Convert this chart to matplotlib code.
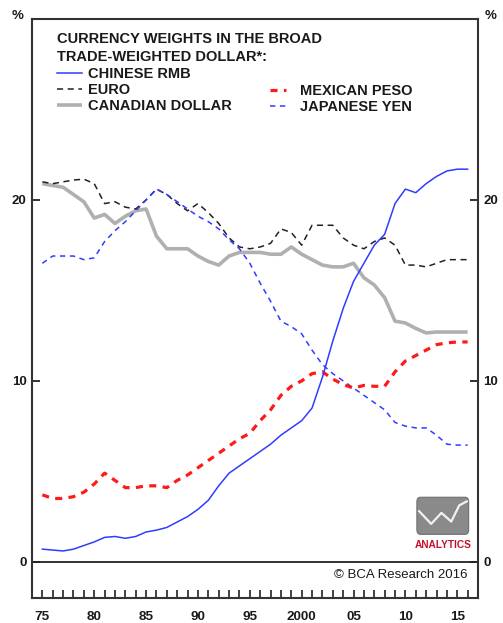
import matplotlib
matplotlib.use("Agg")
import matplotlib.pyplot as plt
import numpy as np
from matplotlib.patches import FancyBboxPatch
from matplotlib.lines import Line2D

plt.rcParams['font.family'] = ['Liberation Sans', 'DejaVu Sans']

# Data, annual weights in %
years = list(range(1975, 2017))
rmb = [0.7, 0.65, 0.6, 0.7, 0.9, 1.1, 1.35, 1.4, 1.3, 1.4,
       1.65, 1.75, 1.9, 2.2, 2.5, 2.9, 3.4, 4.2, 4.9, 5.3,
       5.7, 6.1, 6.5, 7.0, 7.4, 7.8, 8.5, 10.2, 12.2, 14.0,
       15.5, 16.5, 17.5, 18.1, 19.8, 20.6, 20.4, 20.9, 21.3, 21.6,
       21.7, 21.7]
euro = [21.0, 20.9, 21.0, 21.1, 21.15, 20.9, 19.8, 19.9, 19.6, 19.5,
        20.0, 20.6, 20.3, 19.8, 19.4, 19.8, 19.3, 18.7, 17.9, 17.4,
        17.3, 17.4, 17.6, 18.4, 18.2, 17.5, 18.6, 18.6, 18.6, 17.9,
        17.5, 17.3, 17.7, 17.9, 17.5, 16.4, 16.4, 16.3, 16.5, 16.7,
        16.7, 16.7]
cad = [20.9, 20.8, 20.7, 20.3, 19.9, 19.0, 19.2, 18.7, 19.1, 19.4,
       19.5, 18.0, 17.3, 17.3, 17.3, 16.9, 16.6, 16.4, 16.9, 17.1,
       17.1, 17.1, 17.0, 17.0, 17.4, 17.0, 16.7, 16.4, 16.3, 16.3,
       16.5, 15.7, 15.3, 14.6, 13.3, 13.2, 12.9, 12.65, 12.7, 12.7,
       12.7, 12.7]
peso = [3.7, 3.5, 3.5, 3.6, 3.85, 4.3, 4.9, 4.5, 4.1, 4.1,
        4.2, 4.2, 4.1, 4.5, 4.8, 5.2, 5.6, 6.0, 6.4, 6.8,
        7.1, 7.8, 8.4, 9.2, 9.7, 10.0, 10.4, 10.5, 10.1, 9.8,
        9.6, 9.75, 9.7, 9.7, 10.5, 11.1, 11.4, 11.7, 12.0, 12.1,
        12.15, 12.15]
yen = [16.5, 16.9, 16.9, 16.9, 16.7, 16.8, 17.7, 18.3, 18.8, 19.4,
       20.0, 20.6, 20.3, 19.9, 19.5, 19.1, 18.8, 18.4, 17.8, 17.3,
       16.5, 15.4, 14.4, 13.3, 13.0, 12.6, 11.7, 10.9, 10.4, 10.0,
       9.6, 9.2, 8.8, 8.4, 7.7, 7.5, 7.4, 7.4, 7.0, 6.5,
       6.45, 6.45]
label_years = [1975, 1980, 1985, 1990, 1995, 2000, 2005, 2010, 2015]
label_text = ["75", "80", "85", "90", "95", "2000", "05", "10", "15"]

BLUE = '#2f3cff'
RED = '#ff1a1a'
GREY = '#b0b0b0'
TXT = '#1a1a1a'

fig = plt.figure(figsize=(5.03, 6.23), dpi=100)
ax = fig.add_axes([32/503, 25/623, 446/503, 579/623])

l_cad, = ax.plot(years, cad, color=GREY, lw=2.6, solid_capstyle='butt', label='CANADIAN DOLLAR')
l_euro, = ax.plot(years, euro, color='#222222', lw=1.1, dashes=(4, 3), label='EURO')
l_yen, = ax.plot(years, yen, color=BLUE, lw=1.1, dashes=(3.5, 3), label='JAPANESE YEN')
l_peso, = ax.plot(years, peso, color=RED, lw=2.3, dashes=(2.2, 2), label='MEXICAN PESO')
l_rmb, = ax.plot(years, rmb, color=BLUE, lw=1.1, label='CHINESE RMB')

ax.axhline(0, color='#222222', lw=1.3)

ax.set_xlim(1974.0, 2017.0)
ax.set_ylim(-2, 30)

for s in ax.spines.values():
    s.set_color('#333333')
    s.set_linewidth(1.5)

ax.set_yticks([0, 10, 20])
ax.set_yticklabels(['0', '10', '20'])
ax.tick_params(axis='y', direction='in', length=6, width=1.3, color='#222222',
               left=True, right=True, labelleft=True, labelright=True,
               labelsize=9.5, labelcolor=TXT, pad=4)
for t in ax.get_yticklabels():
    t.set_fontweight('bold')

ax.set_xticks(years, minor=True)
ax.set_xticks(label_years)
ax.set_xticklabels(label_text, fontweight='bold')
ax.tick_params(axis='x', which='both', direction='in', length=6, width=1.2,
               color='#222222', labelsize=9.7, labelcolor=TXT, pad=9)

# percent markers on top of the axis
fig.text(18/503, 1 - 16/623, '%', ha='center', va='center', fontsize=9.5,
         fontweight='bold', color=TXT)
fig.text(491/503, 1 - 16/623, '%', ha='center', va='center', fontsize=9.5,
         fontweight='bold', color=TXT)

# title inside the chart
ax.text(0.056, 0.966, 'CURRENCY WEIGHTS IN THE BROAD', transform=ax.transAxes,
        ha='left', va='center', fontsize=10.5, fontweight='bold', color=TXT)
ax.text(0.056, 0.935, 'TRADE-WEIGHTED DOLLAR*:', transform=ax.transAxes,
        ha='left', va='center', fontsize=10.5, fontweight='bold', color=TXT)

leg_kw = dict(frameon=False, borderpad=0, borderaxespad=0,
              labelspacing=0.15, prop={'size': 10.5, 'weight': 'bold'},
              labelcolor=TXT)
leg1 = ax.legend(handles=[l_rmb, l_euro, l_cad], loc='upper left',
                 bbox_to_anchor=(0.056, 0.917), handlelength=1.7,
                 handletextpad=0.4, **leg_kw)
ax.add_artist(leg1)
ax.legend(handles=[l_peso, l_yen], loc='upper left',
          bbox_to_anchor=(0.533, 0.888), handlelength=1.15,
          handletextpad=0.95, **leg_kw)

# copyright
ax.text(0.977, 0.040, '\u00a9 BCA Research 2016', transform=ax.transAxes,
        ha='right', va='center', fontsize=9.5, color=TXT)

# analytics logo
box = FancyBboxPatch((0.863, 0.110), 0.116, 0.064, boxstyle='round,pad=0,rounding_size=0.008',
                     transform=ax.transAxes, facecolor='#8a8a8a', edgecolor='#6e6e6e', lw=0.8)
ax.add_patch(box)
zx = [0.868, 0.895, 0.918, 0.940, 0.958, 0.975]
zy = [0.150, 0.128, 0.147, 0.132, 0.160, 0.167]
ax.add_line(Line2D(zx, zy, transform=ax.transAxes, color='#f2f2f2', lw=1.6))
ax.text(0.921, 0.092, 'ANALYTICS', transform=ax.transAxes, ha='center', va='center',
        fontsize=7.3, fontweight='bold', color='#c8102e')

fig.savefig('out.png', dpi=100)
